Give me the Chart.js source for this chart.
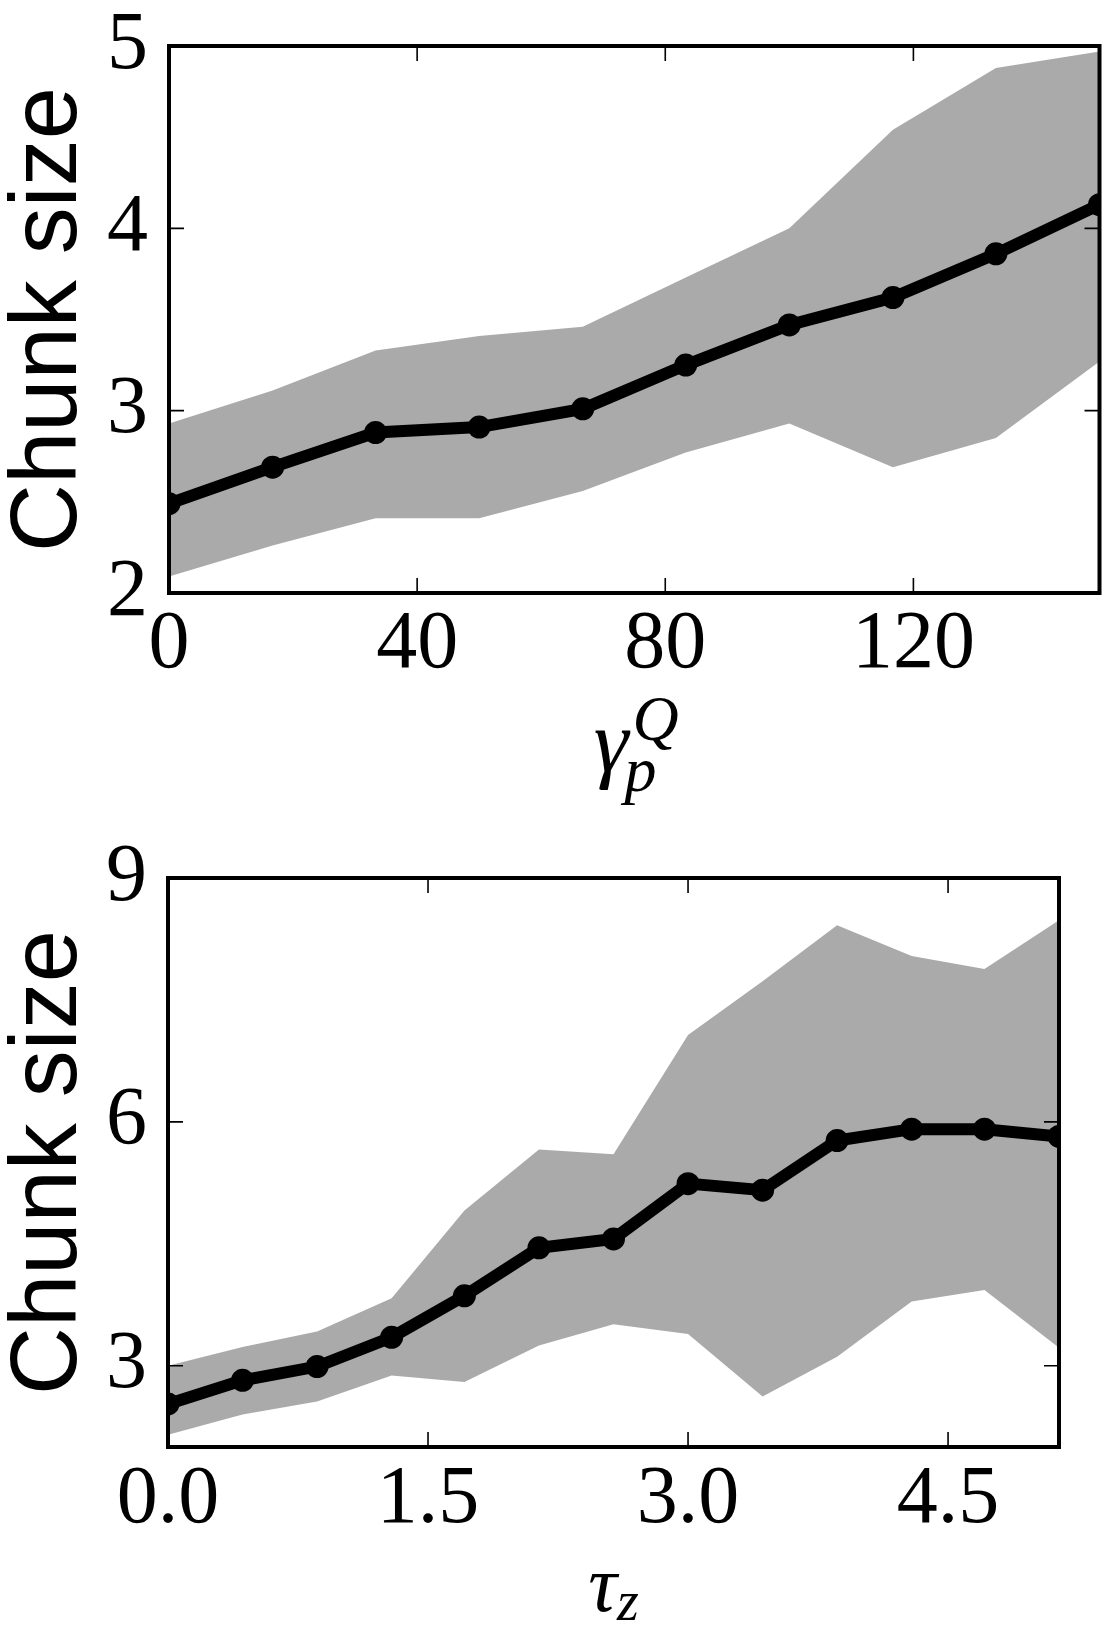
<!DOCTYPE html>
<html>
<head>
<meta charset="utf-8">
<script src="https://cdn.jsdelivr.net/npm/chart.js@4.4.1/dist/chart.umd.min.js"></script>
<style>
  html, body { margin: 0; padding: 0; background: #fff; overflow: hidden; }
  .panel { position: absolute; left: 0; }
  #top { top: 0; }
  #bottom { top: 812px; }
</style>
</head>
<body>
<canvas id="top" class="panel" width="1111" height="812"></canvas>
<canvas id="bottom" class="panel" width="1111" height="813"></canvas>
<script>
// top panel: chunk size vs gamma_p^Q
const gammaX = [0, 16.7, 33.3, 50, 66.7, 83.3, 100, 116.7, 133.3, 150];
const gammaMean = [2.49, 2.69, 2.88, 2.91, 3.01, 3.25, 3.47, 3.62, 3.86, 4.13];
const gammaUpper = [2.93, 3.11, 3.33, 3.41, 3.46, 3.73, 4.00, 4.54, 4.88, 4.97];
const gammaLower = [2.09, 2.26, 2.41, 2.41, 2.56, 2.77, 2.93, 2.69, 2.85, 3.27];
const gammaXTicks = [0, 40, 80, 120];
const gammaYTicks = [2, 3, 4, 5];

// bottom panel: chunk size vs tau_z
const tauX = [0, 0.43, 0.86, 1.29, 1.71, 2.14, 2.57, 3.0, 3.43, 3.86, 4.29, 4.71, 5.14];
const tauMean = [2.53, 2.82, 2.99, 3.35, 3.86, 4.45, 4.56, 5.24, 5.16, 5.77, 5.91, 5.91, 5.82];
const tauUpper = [3.00, 3.23, 3.42, 3.83, 4.91, 5.66, 5.60, 7.07, 7.73, 8.42, 8.04, 7.88, 8.48];
const tauLower = [2.15, 2.40, 2.56, 2.88, 2.80, 3.25, 3.51, 3.39, 2.62, 3.11, 3.79, 3.93, 3.22];
const tauXTicks = [0, 1.5, 3.0, 4.5];
const tauYTicks = [3, 6, 9];

const BAND = '#aaaaaa';
const SERIF = "'Liberation Serif', 'DejaVu Serif', serif";
const SANS = "'Liberation Sans', Arial, sans-serif";
const TICK_LEN = 15;
const TICK_FONT = 82;

const pts = (xs, ys) => xs.map((x, i) => ({ x, y: ys[i] }));

// box around the plot area plus inward ticks on all four sides
const framePlugin = {
  id: 'frame',
  afterDatasetsDraw(chart) {
    const { ctx, chartArea: a, scales: { x, y } } = chart;
    ctx.save();
    ctx.strokeStyle = '#000';
    ctx.lineWidth = 1.6;
    ctx.beginPath();
    x.ticks.forEach((t) => {
      const px = x.getPixelForValue(t.value);
      ctx.moveTo(px, a.bottom); ctx.lineTo(px, a.bottom - TICK_LEN);
      ctx.moveTo(px, a.top); ctx.lineTo(px, a.top + TICK_LEN);
    });
    y.ticks.forEach((t) => {
      const py = y.getPixelForValue(t.value);
      ctx.moveTo(a.left, py); ctx.lineTo(a.left + TICK_LEN, py);
      ctx.moveTo(a.right, py); ctx.lineTo(a.right - TICK_LEN, py);
    });
    ctx.stroke();
    ctx.lineWidth = 4;
    ctx.strokeRect(a.left, a.top, a.width, a.height);
    ctx.restore();
  },
};

// x title with a sub/superscript, e.g. gamma_p^Q
function subSupTitle(id, base, sup, sub, o) {
  return {
    id,
    afterDraw(chart) {
      const { ctx, chartArea: a } = chart;
      const cx = (a.left + a.right) / 2;
      const y0 = a.bottom + o.dy;
      ctx.save();
      ctx.fillStyle = '#000';
      ctx.textBaseline = 'alphabetic';
      ctx.textAlign = 'left';
      ctx.font = `italic ${o.size}px ${SERIF}`;
      const wb = ctx.measureText(base).width;
      ctx.font = `italic ${o.small}px ${SERIF}`;
      const ws = Math.max(sup ? ctx.measureText(sup).width : 0, sub ? ctx.measureText(sub).width : 0);
      const x0 = cx - (wb + ws) / 2;
      ctx.font = `italic ${o.size}px ${SERIF}`;
      ctx.fillText(base, x0, y0);
      ctx.font = `italic ${o.small}px ${SERIF}`;
      if (sup) ctx.fillText(sup, x0 + wb + o.supDx, y0 + o.supDy);
      if (sub) ctx.fillText(sub, x0 + wb + o.subDx, y0 + o.subDy);
      ctx.restore();
    },
  };
}

function makeChart(canvasId, cfg) {
  return new Chart(document.getElementById(canvasId), {
    type: 'line',
    data: {
      datasets: [
        {
          data: pts(cfg.xs, cfg.mean),
          borderColor: '#000',
          backgroundColor: '#000',
          borderWidth: 12,
          pointRadius: 11.5,
          pointBorderWidth: 0,
          pointBackgroundColor: '#000',
          tension: 0,
          fill: false,
          clip: 0,
          order: 0,
        },
        {
          data: pts(cfg.xs, cfg.lower),
          borderWidth: 0,
          pointRadius: 0,
          borderColor: BAND,
          fill: false,
          clip: 0,
          order: 1,
        },
        {
          data: pts(cfg.xs, cfg.upper),
          borderWidth: 0,
          pointRadius: 0,
          borderColor: BAND,
          backgroundColor: BAND,
          fill: '-1',
          clip: 0,
          order: 2,
        },
      ],
    },
    options: {
      responsive: false,
      animation: false,
      events: [],
      layout: { padding: cfg.padding },
      plugins: { legend: { display: false }, tooltip: { enabled: false } },
      scales: {
        x: {
          type: 'linear',
          min: cfg.xMin,
          max: cfg.xMax,
          grid: { display: false, drawTicks: false },
          border: { display: false },
          afterBuildTicks: (s) => { s.ticks = cfg.xTicks.map((v) => ({ value: v })); },
          afterFit: (s) => { s.height = cfg.xHeight; },
          ticks: {
            color: '#000',
            padding: cfg.xPad,
            maxRotation: 0,
            autoSkip: false,
            font: { family: SERIF, size: TICK_FONT, lineHeight: 1 },
            callback: cfg.xFmt,
          },
        },
        y: {
          min: cfg.yMin,
          max: cfg.yMax,
          grid: { display: false, drawTicks: false },
          border: { display: false },
          afterBuildTicks: (s) => { s.ticks = cfg.yTicks.map((v) => ({ value: v })); },
          afterFit: (s) => { s.width = cfg.yWidth; },
          ticks: {
            color: '#000',
            padding: 21,
            // small line height keeps the top label from pushing the plot down
            font: { family: SERIF, size: TICK_FONT, lineHeight: 0.3 },
          },
          title: {
            display: true,
            text: 'Chunk size',
            color: '#000',
            font: { family: SANS, size: 94, lineHeight: 1 },
            padding: { top: 3, bottom: 0 },
          },
        },
      },
    },
    plugins: [framePlugin, cfg.titlePlugin],
  });
}

makeChart('top', {
  xs: gammaX, mean: gammaMean, upper: gammaUpper, lower: gammaLower,
  xTicks: gammaXTicks, yTicks: gammaYTicks,
  xMin: 0, xMax: 150, yMin: 2, yMax: 5,
  padding: { top: 46, right: 2, left: 0, bottom: 0 },
  xHeight: 219, yWidth: 169, xPad: 11,
  xFmt: (v) => String(v),
  titlePlugin: subSupTitle('gammaTitle', 'γ', 'Q', 'p',
    { dy: 178, size: 88, small: 64, supDx: 4, supDy: -31, subDx: -4, subDy: 20 }),
});

makeChart('bottom', {
  xs: tauX, mean: tauMean, upper: tauUpper, lower: tauLower,
  xTicks: tauXTicks, yTicks: tauYTicks,
  xMin: 0, xMax: 5.14, yMin: 2, yMax: 9,
  padding: { top: 66, right: 52, left: 0, bottom: 0 },
  xHeight: 178, yWidth: 168, xPad: 12,
  xFmt: (v) => Number(v).toFixed(1),
  titlePlugin: subSupTitle('tauTitle', 'τ', null, 'z',
    { dy: 164, size: 80, small: 56, supDx: 0, supDy: 0, subDx: 0, subDy: 9 }),
});
</script>
</body>
</html>
